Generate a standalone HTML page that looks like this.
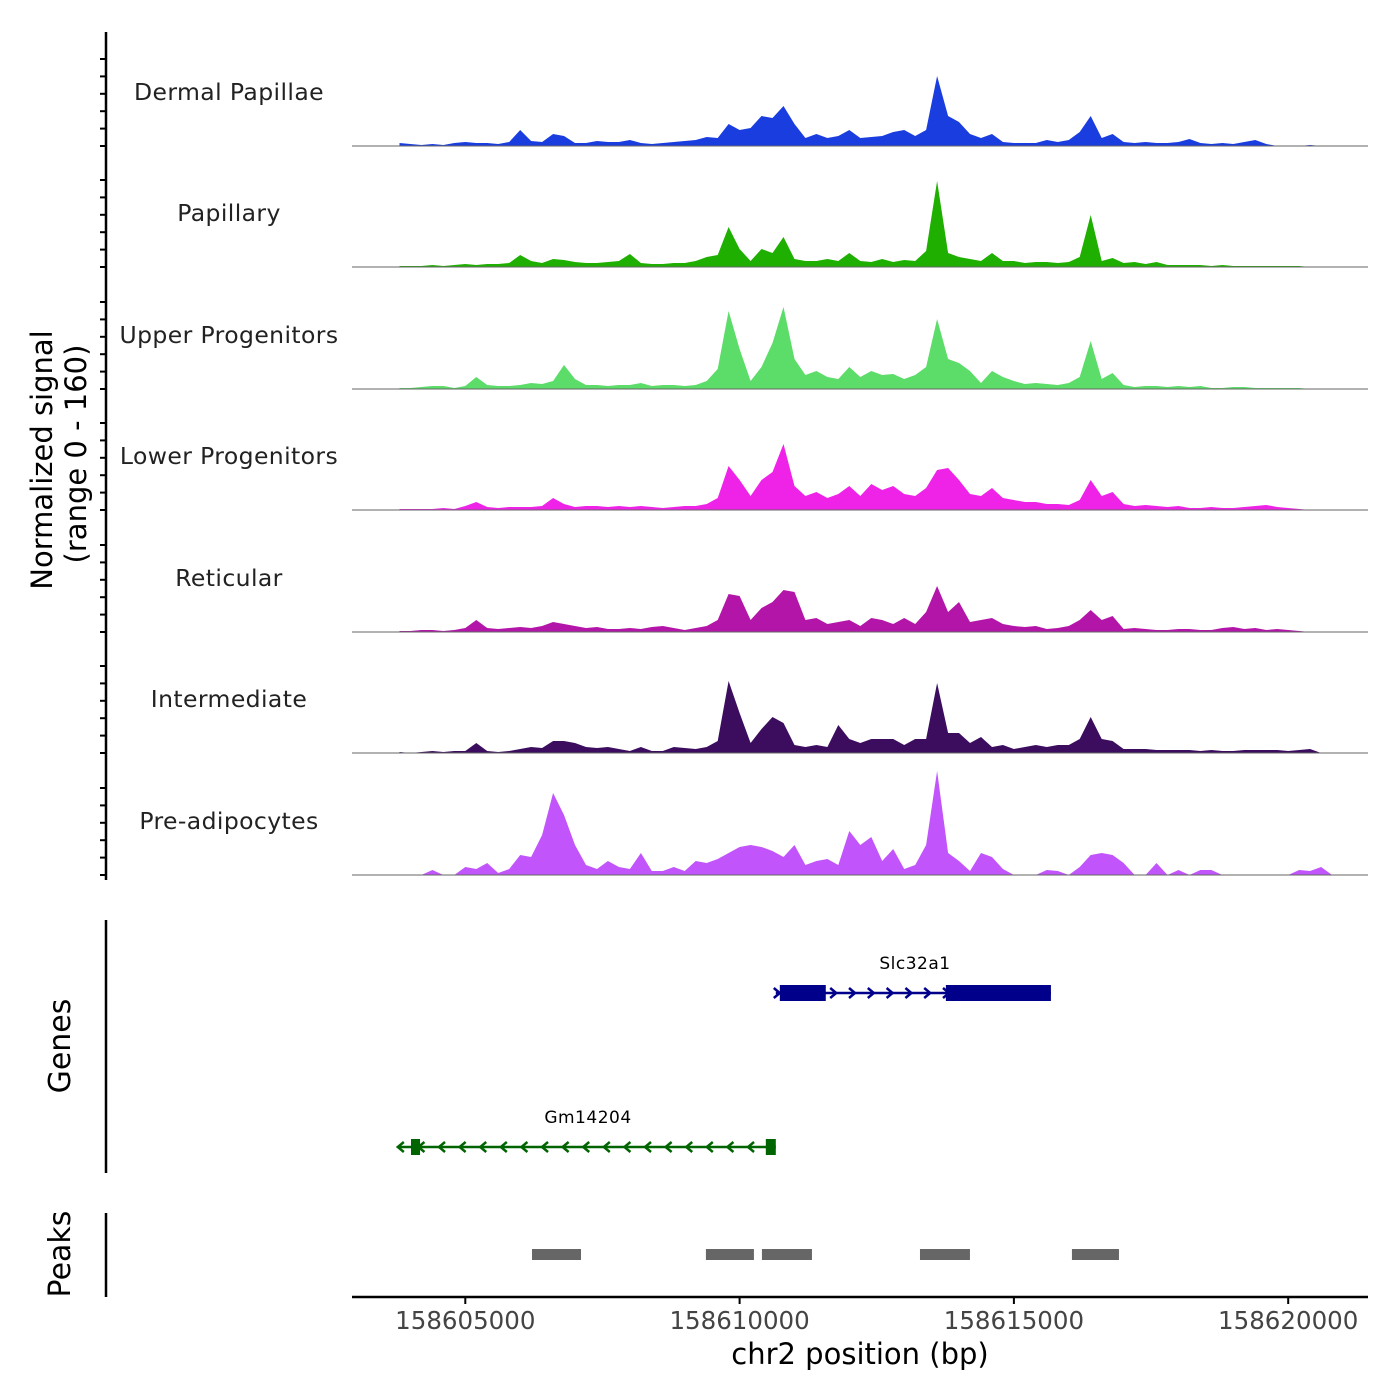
<!DOCTYPE html>
<html><head><meta charset="utf-8"><style>
html,body{margin:0;padding:0;background:#fff;}
svg{display:block;font-family:"DejaVu Sans","Liberation Sans",sans-serif;}
</style></head><body>
<svg id="chart" width="1400" height="1400" viewBox="0 0 1400 1400" xmlns="http://www.w3.org/2000/svg">
<rect x="0" y="0" width="1400" height="1400" fill="#fff"/>
<g id="tracks"></g>
<g id="yaxis">
<line x1="106" y1="32" x2="106" y2="880" stroke="#000" stroke-width="2.5"/>
</g>
<text transform="translate(52,460) rotate(-90)" text-anchor="middle" font-size="29" fill="#000">Normalized signal</text>
<text transform="translate(86,454) rotate(-90)" text-anchor="middle" font-size="29" fill="#000">(range 0 - 160)</text>
<g id="genes">
<line x1="106" y1="920" x2="106" y2="1173" stroke="#000" stroke-width="2.5"/>
<text transform="translate(70,1046) rotate(-90)" text-anchor="middle" font-size="30">Genes</text>
</g>
<g id="peaks">
<line x1="106" y1="1213" x2="106" y2="1297" stroke="#000" stroke-width="2.5"/>
<text transform="translate(70,1254) rotate(-90)" text-anchor="middle" font-size="30">Peaks</text>
</g>
<g id="xaxis">
<line x1="352" y1="1297" x2="1368" y2="1297" stroke="#000" stroke-width="2.5"/>
</g>
<text x="860" y="1364" text-anchor="middle" font-size="29">chr2 position (bp)</text>
</svg>
<script>
const trackNames = ["Dermal Papillae","Papillary","Upper Progenitors","Lower Progenitors","Reticular","Intermediate","Pre-adipocytes"];
const trackColors = ["#1a3de0","#1faf00","#5cdc68","#ef23e8","#b315a9","#3c0d5e","#c154fb"];
const binStart = 158603800;
const binSize = 200;
const sigDermal = [3,2,1,2,1,3,4,3,3,2, 4,16,5,4,12,10,3,3,5,4, 4,6,3,2,3,4,5,6,9,8, 22,16,18,30,28,40,22,8,12,8, 10,16,8,9,10,14,16,10,16,70, 30,24,12,8,12,4,3,3,3,6, 4,6,14,30,8,12,4,3,4,3, 3,4,7,3,2,3,2,4,6,2, 0,0,0,1,0,0];
const sigPapillary = [1,1,1,2,1,2,3,2,3,3, 4,12,6,4,8,7,5,4,4,5, 6,13,4,3,3,4,4,6,10,12, 40,18,6,18,14,30,8,6,6,8, 6,14,6,5,8,5,7,6,16,86, 14,10,8,6,14,6,6,4,5,5, 4,5,10,52,6,9,4,5,3,5, 2,2,2,2,1,2,1,1,1,1, 1,1,1,0,0,0];
const sigUpper = [1,1,2,3,3,1,3,12,4,3, 3,4,6,5,8,24,10,4,4,3, 4,4,6,3,4,4,3,4,8,20, 78,40,8,22,46,82,30,14,18,12, 10,22,12,18,14,15,10,14,22,70, 30,26,18,6,18,12,8,5,6,5, 4,6,12,48,10,16,4,2,3,3, 2,3,2,3,1,1,2,2,1,1, 1,1,1,0,0,0];
const sigLower = [1,1,1,1,2,1,4,8,3,2, 3,3,3,4,12,6,3,4,4,3, 4,3,4,3,2,3,4,4,6,12, 44,30,14,30,38,66,24,14,18,12, 16,24,14,26,20,24,16,14,22,40, 42,30,16,14,22,12,10,8,8,6, 6,5,10,30,14,18,6,4,5,4, 3,4,2,2,3,2,2,3,4,5, 3,2,1,0,0,0];
const sigReticular = [1,1,2,2,1,2,4,12,4,3, 4,5,4,6,10,8,6,4,5,3, 3,4,3,5,6,4,2,4,6,12, 38,36,12,24,30,42,40,12,14,8, 10,12,6,14,12,8,14,8,20,46, 20,30,10,12,14,8,6,5,6,3, 4,6,12,22,12,16,3,4,3,2, 2,3,3,2,2,4,5,3,4,2, 3,2,1,0,0,0];
const sigIntermediate = [1,0,1,2,1,2,2,10,2,1, 2,4,6,5,12,12,10,6,5,6, 4,2,6,2,2,6,5,4,6,12, 72,40,10,24,36,30,8,6,8,6, 28,14,10,14,14,14,8,14,14,70, 20,20,10,16,6,8,4,6,8,6, 8,8,14,36,14,12,4,4,4,3, 3,3,3,2,3,2,2,3,3,3, 3,2,3,4,0,0];
const sigPreadipo = [0,0,0,5,0,0,8,6,12,2, 6,20,18,40,82,60,30,10,6,14, 8,6,22,4,4,8,4,14,12,16, 22,28,30,28,24,18,30,10,14,16, 10,44,30,38,14,26,6,10,30,104, 22,14,4,22,18,6,0,0,0,5, 4,0,8,20,22,20,12,0,0,12, 0,5,0,5,5,0,0,0,0,0, 0,0,5,4,8,0];
const signals = [sigDermal,sigPapillary,sigUpper,sigLower,sigReticular,sigIntermediate,sigPreadipo];
const xTicks = [158605000,158610000,158615000,158620000];
const peakStarts = [158606216,158609386,158610407,158613288,158616058];
const peakEnds = [158607109,158610261,158611319,158614199,158616915];
const geneNames = ["Slc32a1","Gm14204"];
const geneStarts = [158610660,158603770];
const geneEnds = [158615675,158610660];
const geneStrands = [1,-1];
const exonStarts = [[158610733,158613760],[158604010,158610478]];
const exonEnds = [[158611571,158615675],[158604175,158610660]];

const NS="http://www.w3.org/2000/svg";
const X0=465.3, PXBP=274.3/5000;
function xs(bp){return X0+(bp-158605000)*PXBP;}
const baselines=[146,267,389,510,632,753,875];
function ys(t,v){return baselines[t]-v;}
function el(tag,attrs,parent){const e=document.createElementNS(NS,tag);for(const k in attrs)e.setAttribute(k,attrs[k]);parent.appendChild(e);return e;}
const tracks=document.getElementById('tracks');
signals.forEach((s,t)=>{
  const g=el('g',{},tracks);
  
  
  let d='M'+xs(binStart).toFixed(1)+','+ys(t,0);
  s.forEach((v,i)=>{d+=' L'+xs(binStart+i*binSize).toFixed(1)+','+ys(t,v).toFixed(1);});
  d+=' L'+xs(binStart+(s.length-1)*binSize).toFixed(1)+','+ys(t,0)+' Z';
  const p=el('path',{d:d,fill:trackColors[t]},g);
  
  
  const bl=el('line',{x1:352,x2:1368,y1:baselines[t],y2:baselines[t],stroke:'#666','stroke-width':1},g);
  
  
  const lb=el('text',{x:229,y:baselines[t]-46,'text-anchor':'middle','font-size':'23.5',fill:'#222','letter-spacing':'0.4'},g);
  lb.textContent=trackNames[t];
  
  
});
const yaxis=document.getElementById('yaxis');
baselines.forEach((b,t)=>{
  for(let k=0;k<6;k++){
    const y=b-k*17.4;
    const tk=el('line',{x1:100,x2:106,y1:y,y2:y,stroke:'#000','stroke-width':2},yaxis);
    
    
  }
});
const xa=document.getElementById('xaxis');
xTicks.forEach(v=>{
  const tk=el('line',{x1:xs(v),x2:xs(v),y1:1297,y2:1304,stroke:'#000','stroke-width':2},xa);
  
  
  const tl=el('text',{x:xs(v),y:1329,'text-anchor':'middle','font-size':'24.5',fill:'#444'},xa);
  tl.textContent=String(v);
  
  
});
const pk=document.getElementById('peaks');
peakStarts.forEach((s,i)=>{
  const r=el('rect',{x:xs(s),y:1249,width:xs(peakEnds[i])-xs(s),height:11,fill:'#666'},pk);
  
  
});
const gn=document.getElementById('genes');
const geneY=[993,1147], geneCol=['#00008b','#006400'];
geneNames.forEach((n,i)=>{
  const g=el('g',{},gn);
  
  
  const y=geneY[i], c=geneCol[i];
  const x1=xs(geneStarts[i]), x2=xs(geneEnds[i]);
  el('line',{x1:x1,x2:x2,y1:y,y2:y,stroke:c,'stroke-width':2.5},g);
  const step=geneStrands[i]>0?18.8:20.6;
  for(let x=x1+2;x<x2-4;x+=step){
    const dir=geneStrands[i];
    const pts=(x-4*dir)+','+(y-5)+' '+(x+2*dir)+','+y+' '+(x-4*dir)+','+(y+5);
    el('polyline',{points:pts,fill:'none',stroke:c,'stroke-width':2.5},g);
  }
  exonStarts[i].forEach((s,j)=>{
    el('rect',{x:xs(s),y:y-8,width:xs(exonEnds[i][j])-xs(s),height:16,fill:c},g);
  });
  const t=el('text',{x:(i===0?915:588),y:y-24,'text-anchor':'middle','font-size':'17',fill:'#000','letter-spacing':'0.5'},g);
  t.textContent=n;
  
  
});
</script>
</body></html>
